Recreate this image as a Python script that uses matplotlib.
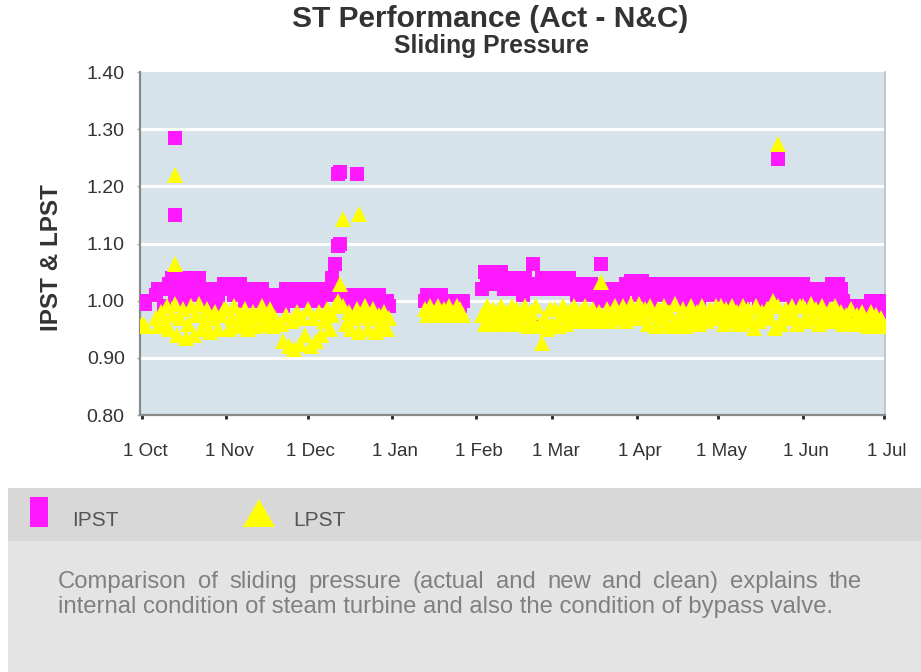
import numpy as np
import pandas as pd
import matplotlib
matplotlib.use("Agg")
import matplotlib.pyplot as plt
import matplotlib.dates as mdates
import matplotlib.transforms as mtransforms
from matplotlib.ticker import FuncFormatter
from matplotlib.patches import Rectangle, Polygon

nan = np.nan

# ---- data (daily values, one list per month) ----
month_starts = ["2012-10-01", "2012-11-01", "2012-12-01", "2013-01-01", "2013-02-01",
                "2013-03-01", "2013-04-01", "2013-05-01", "2013-06-01", "2013-07-01"]

oct_ipst = [1.00, 0.995, nan, nan, nan, 1.01, 1.02, 1.02, 0.99, 1.02, 1.03, 1.04, 1.01, 1.04, 1.03, 1.00,
            1.04, 1.02, 1.04, 1.01, 1.03, 1.04, 1.02, 1.00, 1.02, 1.01, 0.99, 1.02, 1.00, 1.02, 1.03]
oct_lpst = [0.96, 0.955, nan, nan, nan, 0.97, 0.955, 0.98, 0.96, 0.99, 0.95, 0.975, 0.995, 0.94, 0.97, 0.985,
            0.935, 0.96, 0.99, 0.94, 0.975, 0.995, 0.95, 0.965, 0.985, 0.945, 0.97, 0.98, 0.95, 0.975, 0.985]
nov_ipst = [1.03, 1.02, 1.03, 1.01, 1.02, 1.03, 1.02, 1.00, 1.02, 1.01, 1.02, 1.00, 1.01, 1.02, 1.00,
            1.01, 0.99, 1.01, 1.00, nan, 1.00, 0.99, 1.02, 1.00, 1.02, 1.01, 1.02, 1.00, 1.02, 1.01]
nov_lpst = [0.985, 0.95, 0.97, 0.99, 0.955, 0.975, 0.96, 0.985, 0.95, 0.97, 0.98, 0.955, 0.975, 0.99, 0.96,
            0.97, 0.985, 0.955, 0.97, nan, 0.96, 0.93, 0.975, 0.92, 0.965, 0.915, 0.98, 0.925, 0.97, 0.94]
dec_ipst = [1.02, 1.00, 1.02, 1.01, 1.02, 1.00, 1.02, 1.01, 1.02, 1.04, 1.065, 1.095, 1.01, 0.99, 1.00, 1.01,
            1.00, 1.01, 0.99, 1.01, 1.00, 1.01, 0.99, 1.01, 1.00, 0.99, 1.01, 1.00, 0.99, 1.00, 0.99]
dec_lpst = [0.985, 0.92, 0.97, 0.93, 0.98, 0.94, 0.965, 0.985, 0.95, 0.975, 0.99, 1.00, 1.03, 0.99, 0.96, 0.98,
            0.95, 0.97, 0.985, 0.945, 0.975, 0.99, 0.95, 0.97, 0.985, 0.945, 0.975, 0.96, 0.98, 0.95, 0.97]
jan_ipst = [nan, nan, nan, nan, nan, nan, nan, nan, nan, nan, nan, nan,
            1.00, 1.01, 1.00, 1.01, 1.00, 0.99, 1.01, 1.00, 0.99, 1.00, 1.00, 0.99, 1.00, 0.99, 1.00,
            nan, nan, nan, nan]
jan_lpst = [nan, nan, nan, nan, nan, nan, nan, nan, nan, nan, nan, nan,
            0.985, 0.975, 0.99, 0.98, 0.975, 0.99, 0.98, 0.985, 0.975, 0.99, 0.98, 0.975, 0.99, 0.985, 0.975,
            nan, nan, nan, nan]
feb_ipst = [nan, nan, 1.02, 1.05, 1.03, 1.05, 1.04, 1.05, 1.03, 1.05, 1.02, 1.04, 1.03, 1.04, 1.02, 1.04,
            1.03, 1.01, 1.04, 1.03, 1.02, 1.065, 0.955, 1.03, 1.04, 1.02, 1.04, 1.03]
feb_lpst = [nan, nan, 0.975, 0.96, 0.99, 0.97, 0.985, 0.96, 0.975, 0.99, 0.965, 0.98, 0.96, 0.99, 0.97, 0.985,
            0.96, 0.975, 0.99, 0.955, 0.98, 0.965, 0.99, 0.955, 0.926, 0.97, 0.95, 0.985]
mar_ipst = [1.04, 1.02, 1.04, 1.03, 1.04, 1.02, 1.04, 1.03, 1.03, 1.01, 1.03, 1.02, 1.03, 1.01, 1.03, 1.02,
            1.02, 1.00, 1.065, 1.02, 1.01, 1.02, 1.00, 1.02, 1.01, 1.02, 1.00, 1.03, 1.02, 1.035, 1.03]
mar_lpst = [0.96, 0.985, 0.955, 0.975, 0.99, 0.96, 0.98, 0.965, 0.99, 0.97, 0.98, 0.965, 0.99, 0.975, 0.97, 0.985,
            0.965, 0.98, 1.033, 0.97, 0.985, 0.965, 0.98, 0.99, 0.97, 0.975, 0.99, 0.965, 0.98, 0.995, 0.97]
apr_ipst = [1.03, 1.01, 1.035, 1.02, 1.03, 1.00, 1.03, 1.02, 1.03, 1.01, 1.02, 1.03, 1.00, 1.02, 1.03,
            1.01, 1.02, 1.00, 1.03, 1.02, 1.01, 1.03, 1.02, 1.00, 1.02, 1.03, 1.01, 1.02, 1.03, 1.01]
apr_lpst = [0.98, 0.995, 0.97, 0.985, 0.96, 0.99, 0.975, 0.955, 0.985, 0.97, 0.99, 0.96, 0.98, 0.955, 0.995,
            0.97, 0.96, 0.985, 0.955, 0.975, 0.99, 0.965, 0.98, 0.96, 0.99, 0.975, 0.965, 0.985, 0.97, 0.99]
may_ipst = [1.02, 1.03, 1.01, 1.02, 1.00, 1.02, 1.03, 1.01, 1.02, 1.00, 1.03, 1.02, 1.01, 1.03, 1.02, 1.00,
            1.02, 1.03, 1.01, 1.02, 1.03, 1.02, 1.01, 1.03, 1.02, 1.03, 1.01, 1.02, 1.00, 1.02, 1.03]
may_lpst = [0.975, 0.99, 0.96, 0.985, 0.97, 0.99, 0.965, 0.98, 0.96, 0.99, 0.97, 0.985, 0.965, 0.953, 0.99, 0.965,
            0.98, 0.97, 0.985, 0.97, 1.00, 0.953, 0.99, 0.96, 0.975, 0.985, 0.97, 0.99, 0.975, 0.96, 0.99]
jun_ipst = [1.03, 1.01, 1.02, 1.02, 1.00, 1.02, 1.01, 1.02, 1.00, 1.02, 1.01, 1.03, 1.01, 1.03, 1.02,
            1.00, 0.99, 0.98, 0.99, 0.99, 0.98, 0.99, 0.98, 0.99, 0.99, 1.00, 0.99, 1.00, 0.98, 1.00]
jun_lpst = [0.99, 0.965, 0.98, 0.995, 0.97, 0.985, 0.96, 0.99, 0.975, 0.965, 0.985, 0.97, 0.99, 0.965, 0.98,
            0.96, 0.975, 0.96, 0.985, 0.965, 0.975, 0.96, 0.98, 0.965, 0.955, 0.98, 0.965, 0.975, 0.955, 0.97]
jul_ipst = [0.99]
jul_lpst = [0.955]

ipst_extra_dates = ["2012-10-13", "2012-10-13", "2012-12-12", "2012-12-13", "2012-12-13", "2012-12-19", "2013-05-23"]
ipst_extra_vals = [1.285, 1.15, 1.222, 1.225, 1.10, 1.222, 1.247]
lpst_extra_dates = ["2012-10-13", "2012-10-13", "2012-12-14", "2012-12-20", "2013-05-23"]
lpst_extra_vals = [1.22, 1.065, 1.142, 1.152, 1.274]

y_ticks = [0.80, 0.90, 1.00, 1.10, 1.20, 1.30, 1.40]
title = "ST Performance (Act - N&C)"
subtitle = "Sliding Pressure"
ylabel = "IPST & LPST"
series_names = ["IPST", "LPST"]
note_line1 = "Comparison of sliding pressure (actual and new and clean) explains the"
note_line2 = "internal condition of steam turbine and also the condition of bypass valve."

# ---- assemble ----
ipst_months = [oct_ipst, nov_ipst, dec_ipst, jan_ipst, feb_ipst, mar_ipst, apr_ipst, may_ipst, jun_ipst, jul_ipst]
lpst_months = [oct_lpst, nov_lpst, dec_lpst, jan_lpst, feb_lpst, mar_lpst, apr_lpst, may_lpst, jun_lpst, jul_lpst]
dates, ipst, lpst = [], [], []
for start, iv, lv in zip(month_starts, ipst_months, lpst_months):
    dates.extend(pd.date_range(start, periods=len(iv), freq="D"))
    ipst.extend(iv)
    lpst.extend(lv)
df = pd.DataFrame({"date": dates, "ipst": ipst, "lpst": lpst})
ipst_x = list(df["date"]) + list(pd.to_datetime(ipst_extra_dates))
ipst_y = list(df["ipst"]) + ipst_extra_vals
lpst_x = list(df["date"]) + list(pd.to_datetime(lpst_extra_dates))
lpst_y = list(df["lpst"]) + lpst_extra_vals

W, H = 921, 672
MAG = "#ff19ff"
YEL = "#ffff00"
FONT = "Liberation Sans"

fig = plt.figure(figsize=(W / 100, H / 100), dpi=100)
fig.patch.set_facecolor("white")

def fx(x):
    return x / W

def fy(y):
    return 1 - y / H

ax = fig.add_axes([fx(140), fy(415), (885 - 140) / W, (415 - 72) / H])
ax.set_facecolor("#d6e3eb")
for yv in y_ticks[1:-1]:
    ax.axhline(yv, color="white", lw=2.2, zorder=1)

ax.plot(ipst_x, ipst_y, linestyle="none", marker="s", markersize=10.3, color=MAG,
        markeredgewidth=0, zorder=3)
ax.plot(lpst_x, lpst_y, linestyle="none", marker="^", markersize=12, color=YEL,
        markeredgewidth=0, zorder=4)

ax.set_ylim(0.80, 1.40)
ax.set_yticks(y_ticks)
ax.yaxis.set_major_formatter(FuncFormatter(lambda v, p: f"{v:.2f}"))
ax.set_xlim(pd.Timestamp("2012-10-01") - pd.Timedelta(hours=18),
            pd.Timestamp("2013-07-01") + pd.Timedelta(hours=8))
ax.xaxis.set_major_locator(mdates.MonthLocator())
ax.xaxis.set_major_formatter(FuncFormatter(
    lambda v, p: f"{mdates.num2date(v).day} {mdates.num2date(v).strftime('%b')}"))

ax.spines["top"].set_visible(False)
ax.spines["left"].set_color("#8a8a8a")
ax.spines["left"].set_linewidth(1.6)
ax.spines["bottom"].set_color("#8a8a8a")
ax.spines["bottom"].set_linewidth(1.6)
ax.spines["right"].set_color("#b6bfc6")
ax.spines["right"].set_linewidth(1.2)

ax.tick_params(axis="x", direction="out", length=3, width=2, color="#222222",
               labelcolor="#333333", labelsize=13.5, pad=17)
ax.tick_params(axis="y", direction="out", length=2, width=1, color="#aaaaaa",
               labelcolor="#333333", labelsize=14, pad=9)
offset = mtransforms.ScaledTranslation(3 / 100, 0, fig.dpi_scale_trans)
for lab in ax.get_xticklabels():
    lab.set_family(FONT)
    lab.set_transform(lab.get_transform() + offset)
for lab in ax.get_yticklabels():
    lab.set_family(FONT)

fig.text(fx(52), fy(258), ylabel, rotation=90, ha="center", va="center",
         fontsize=17.5, fontweight="bold", color="#333333", family=FONT)
fig.text(fx(490), fy(19), title, ha="center", va="center",
         fontsize=21.5, fontweight="bold", color="#333333", family=FONT)
fig.text(fx(491), fy(46), subtitle, ha="center", va="center",
         fontsize=17.8, fontweight="bold", color="#333333", family=FONT)

# legend band and note area
fig.add_artist(Rectangle((fx(8), fy(541)), fx(W - 8), (541 - 488) / H,
                         transform=fig.transFigure, facecolor="#d9d8d9", edgecolor="none"))
fig.add_artist(Rectangle((fx(8), 0), fx(W - 8), (H - 541) / H,
                         transform=fig.transFigure, facecolor="#e5e4e5", edgecolor="none"))
fig.add_artist(Rectangle((fx(30), fy(527)), fx(18), 30 / H,
                         transform=fig.transFigure, facecolor=MAG, edgecolor="none"))
fig.add_artist(Polygon([(fx(243), fy(527)), (fx(275), fy(527)), (fx(259), fy(499))], closed=True,
                       transform=fig.transFigure, facecolor=YEL, edgecolor="none"))
fig.text(fx(72), fy(521), series_names[0], ha="left", va="center",
         color="#555555", fontsize=15, family=FONT)
fig.text(fx(293), fy(521), series_names[1], ha="left", va="center",
         color="#555555", fontsize=15, family=FONT)

# justified first line
note_kw = dict(fontsize=17.2, color="#808080", family=FONT, va="center", ha="left")
renderer = fig.canvas.get_renderer()
words = note_line1.split()
widths = []
for w in words:
    t = fig.text(0, 0, w, **note_kw)
    widths.append(t.get_window_extent(renderer).width)
    t.remove()
gap = (862 - 58 - sum(widths)) / (len(words) - 1)
xpos = 58
for w, wd in zip(words, widths):
    fig.text(fx(xpos), fy(582), w, **note_kw)
    xpos += wd + gap
fig.text(fx(58), fy(607), note_line2, **note_kw)

fig.savefig("out.png", dpi=100)
